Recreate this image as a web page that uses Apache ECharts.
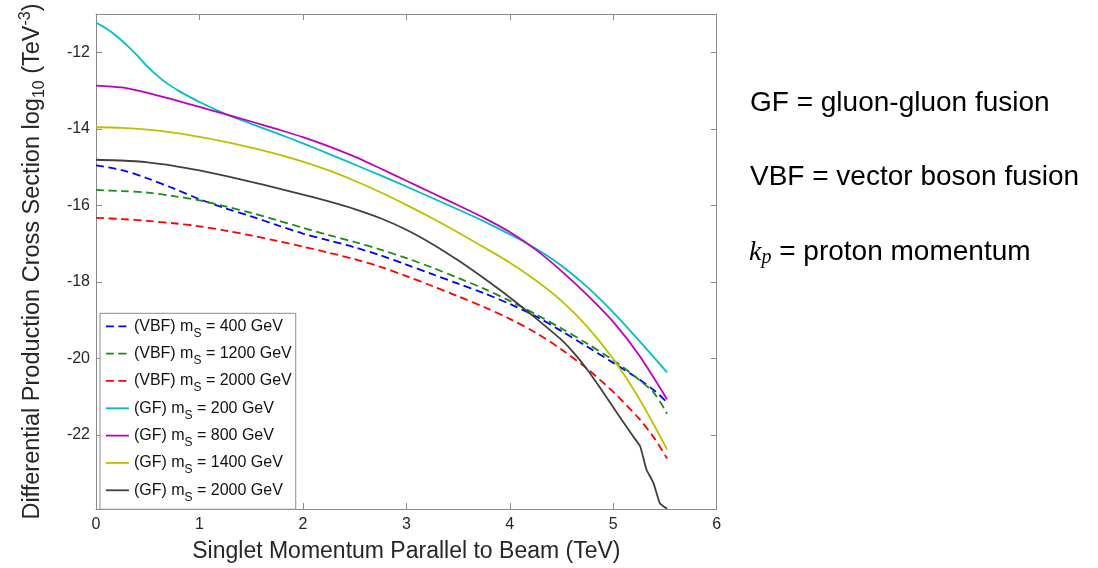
<!DOCTYPE html>
<html>
<head>
<meta charset="utf-8">
<script src="https://cdn.jsdelivr.net/npm/echarts@6/dist/echarts.min.js"></script>
<style>
html,body{margin:0;padding:0;background:#fff;}
#chart{width:1098px;height:568px;}
</style>
</head>
<body>
<div id="chart"></div>
<script>
// ---- data ----
const xTicks = [0, 1, 2, 3, 4, 5, 6];
const yTicks = [-22, -20, -18, -16, -14, -12];

const seriesNames = [
  '(VBF) m_S = 400 GeV',
  '(VBF) m_S = 1200 GeV',
  '(VBF) m_S = 2000 GeV',
  '(GF) m_S = 200 GeV',
  '(GF) m_S = 800 GeV',
  '(GF) m_S = 1400 GeV',
  '(GF) m_S = 2000 GeV'
];

const xVBF = [0, 0.25, 0.5, 0.75, 1.0, 1.25, 1.5, 1.75, 2.0, 2.25, 2.5, 2.75, 3.0, 3.25, 3.5, 3.75, 4.0, 4.25, 4.5, 4.75, 5.0, 5.25, 5.4, 5.52];
const yVBF400 = [-14.96, -15.08, -15.30, -15.56, -15.84, -16.08, -16.29, -16.52, -16.74, -16.92, -17.10, -17.31, -17.55, -17.80, -18.05, -18.30, -18.58, -18.90, -19.29, -19.70, -20.12, -20.55, -20.85, -21.15];
const yVBF1200 = [-15.60, -15.63, -15.67, -15.76, -15.87, -16.03, -16.20, -16.39, -16.59, -16.78, -16.96, -17.16, -17.38, -17.63, -17.90, -18.18, -18.50, -18.85, -19.22, -19.62, -20.05, -20.56, -20.93, -21.45];
const yVBF2000 = [-16.33, -16.36, -16.41, -16.47, -16.55, -16.66, -16.79, -16.93, -17.08, -17.24, -17.41, -17.61, -17.85, -18.11, -18.38, -18.66, -18.97, -19.33, -19.77, -20.28, -20.88, -21.58, -22.10, -22.62];

const xGF200 = [0, 0.1, 0.2, 0.3, 0.4, 0.5, 0.6, 0.7, 0.8, 0.9, 1.0, 1.25, 1.5, 1.75, 2.0, 2.25, 2.5, 2.75, 3.0, 3.25, 3.5, 3.75, 4.0, 4.25, 4.5, 4.75, 5.0, 5.25, 5.52];
const yGF200 = [-11.22, -11.38, -11.58, -11.82, -12.09, -12.38, -12.63, -12.84, -13.01, -13.16, -13.30, -13.61, -13.87, -14.12, -14.38, -14.655, -14.935, -15.22, -15.51, -15.81, -16.11, -16.42, -16.76, -17.13, -17.58, -18.14, -18.80, -19.54, -20.37];

const xGF = [0, 0.25, 0.5, 0.75, 1.0, 1.25, 1.5, 1.75, 2.0, 2.25, 2.5, 2.75, 3.0, 3.25, 3.5, 3.75, 4.0, 4.25, 4.5, 4.75, 5.0, 5.25, 5.52];
const yGF800 = [-12.87, -12.92, -13.06, -13.24, -13.43, -13.62, -13.81, -14.01, -14.22, -14.46, -14.73, -15.04, -15.36, -15.68, -16.00, -16.33, -16.70, -17.16, -17.72, -18.35, -19.05, -19.92, -21.07];
const yGF1400 = [-13.96, -13.975, -14.02, -14.10, -14.21, -14.34, -14.49, -14.66, -14.86, -15.09, -15.36, -15.66, -15.99, -16.34, -16.71, -17.10, -17.50, -17.96, -18.50, -19.18, -20.02, -21.05, -22.38];

const xGF2000 = [0, 0.25, 0.5, 0.75, 1.0, 1.25, 1.5, 1.75, 2.0, 2.25, 2.5, 2.75, 3.0, 3.25, 3.5, 3.75, 4.0, 4.25, 4.5, 4.625, 4.75, 4.875, 5.0, 5.1, 5.2, 5.26, 5.32, 5.39, 5.45, 5.52];
const yGF2000 = [-14.81, -14.83, -14.88, -14.97, -15.09, -15.23, -15.39, -15.55, -15.72, -15.90, -16.10, -16.34, -16.64, -17.01, -17.44, -17.91, -18.41, -18.95, -19.52, -19.88, -20.30, -20.78, -21.28, -21.68, -22.07, -22.30, -22.90, -23.27, -23.79, -23.93];

const notes = ['GF = gluon-gluon fusion', 'VBF = vector boson fusion', '= proton momentum'];

// ---- build ----
const FONT = '"Liberation Sans", Arial, Helvetica, sans-serif';
const AXIS_COLOR = '#8a8a8a';
const TEXT_COLOR = '#262626';

function zip(xs, ys) { return xs.map((x, i) => [x, ys[i]]); }

const curves = [
  { x: xVBF, y: yVBF400, color: '#0000ff', dashed: true },
  { x: xVBF, y: yVBF1200, color: '#1a8a1a', dashed: true },
  { x: xVBF, y: yVBF2000, color: '#ff0000', dashed: true },
  { x: xGF200, y: yGF200, color: '#00bfbf', dashed: false },
  { x: xGF, y: yGF800, color: '#bf00bf', dashed: false },
  { x: xGF, y: yGF1400, color: '#bfbf00', dashed: false },
  { x: xGF2000, y: yGF2000, color: '#404040', dashed: false }
];

const series = curves.map((c, i) => ({
  name: seriesNames[i],
  type: 'line',
  data: zip(c.x, c.y),
  showSymbol: false,
  symbol: 'none',
  smooth: i === 6 ? 0.15 : 0.3,
  clip: true,
  silent: true,
  lineStyle: { color: c.color, width: 1.8, type: c.dashed ? [8, 4.5] : 'solid' },
  itemStyle: { color: c.color }
}));

const yMin = -23.94, yMax = -11;

const chart = echarts.init(document.getElementById('chart'), null, { renderer: 'canvas' });
chart.setOption({
  animation: false,
  backgroundColor: '#fff',
  grid: { left: 96, right: 381.3, top: 14, bottom: 55.7, containLabel: false },
  xAxis: [
    {
      type: 'value', position: 'bottom', min: xTicks[0], max: xTicks[xTicks.length - 1], interval: 1,
      axisLine: { show: true, onZero: false, lineStyle: { color: AXIS_COLOR, width: 1 } },
      axisTick: { show: true, inside: true, length: 6, lineStyle: { color: AXIS_COLOR } },
      axisLabel: { color: TEXT_COLOR, fontFamily: FONT, fontSize: 16, margin: 8 },
      splitLine: { show: false },
      name: 'Singlet Momentum Parallel to Beam (TeV)',
      nameLocation: 'middle', nameGap: 31,
      nameTextStyle: { color: TEXT_COLOR, fontFamily: FONT, fontSize: 23 }
    },
    {
      type: 'value', position: 'top', min: xTicks[0], max: xTicks[xTicks.length - 1], interval: 1,
      axisLine: { show: true, onZero: false, lineStyle: { color: AXIS_COLOR, width: 1 } },
      axisTick: { show: true, inside: true, length: 6, lineStyle: { color: AXIS_COLOR } },
      axisLabel: { show: false },
      splitLine: { show: false }
    }
  ],
  yAxis: [
    {
      type: 'value', position: 'left', min: yMin, max: yMax,
      axisLine: { show: true, onZero: false, lineStyle: { color: AXIS_COLOR, width: 1 } },
      axisTick: { show: true, inside: true, length: 6, customValues: yTicks, lineStyle: { color: AXIS_COLOR } },
      axisLabel: { color: TEXT_COLOR, fontFamily: FONT, fontSize: 16, margin: 6, customValues: yTicks },
      splitLine: { show: false },
      name: 'Differential Production Cross Section log{sub|10} (TeV{sup|-3})',
      nameLocation: 'middle', nameGap: 48, nameRotate: 90,
      nameTextStyle: {
        color: TEXT_COLOR, fontFamily: FONT, fontSize: 23.5, lineHeight: 30,
        rich: {
          sub: { fontSize: 16, lineHeight: 16, verticalAlign: 'bottom', fontFamily: FONT, color: TEXT_COLOR },
          sup: { fontSize: 16, lineHeight: 16, verticalAlign: 'top', fontFamily: FONT, color: TEXT_COLOR }
        }
      }
    },
    {
      type: 'value', position: 'right', min: yMin, max: yMax,
      axisLine: { show: true, onZero: false, lineStyle: { color: AXIS_COLOR, width: 1 } },
      axisTick: { show: true, inside: true, length: 6, customValues: yTicks, lineStyle: { color: AXIS_COLOR } },
      axisLabel: { show: false },
      splitLine: { show: false }
    }
  ],
  legend: {
    orient: 'vertical', left: 100, top: 313.3,
    padding: [0, 4, 6, 5],
    itemWidth: 23, itemHeight: 14, itemGap: 1.33,
    borderColor: '#8a8a8a', borderWidth: 1, backgroundColor: '#fff',
    selectedMode: false,
    data: seriesNames,
    itemStyle: { opacity: 0 },
    lineStyle: { opacity: 1, width: 1.8 },
    formatter: name => name.replace('_S', '{s|S}'),
    textStyle: {
      color: '#111', fontFamily: FONT, fontSize: 16, lineHeight: 26,
      rich: { s: { fontSize: 12, lineHeight: 12, verticalAlign: 'bottom', fontFamily: FONT, color: '#111' } }
    }
  },
  series: series,
  graphic: [
    { type: 'text', left: 750, top: 104 - 15, style: { text: notes[0], font: '28px ' + FONT, fill: '#000' } },
    { type: 'text', left: 750, top: 178.3 - 15, style: { text: notes[1], font: '28px ' + FONT, fill: '#000' } },
    {
      type: 'text', left: 749, top: 252.7 - 15,
      style: {
        text: '{k|k}{p|p}{n| ' + notes[2] + '}',
        font: '28px ' + FONT, fill: '#000', lineHeight: 30,
        rich: {
          k: { fontFamily: '"Liberation Serif", serif', fontStyle: 'italic', fontSize: 28, lineHeight: 30, verticalAlign: 'middle' },
          p: { fontFamily: '"Liberation Serif", serif', fontStyle: 'italic', fontSize: 20, lineHeight: 20, verticalAlign: 'bottom' },
          n: { fontFamily: FONT, fontSize: 28, lineHeight: 30, verticalAlign: 'middle' }
        }
      }
    }
  ]
});
</script>
</body>
</html>
